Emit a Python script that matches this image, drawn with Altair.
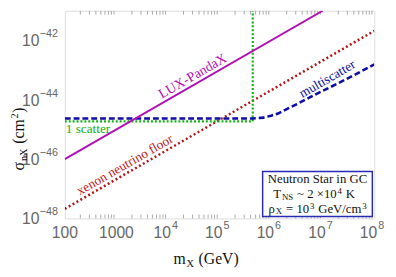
import altair as alt
import pandas as pd

W, H = 316, 212
SERIF = "Liberation Serif"
SANS = "Liberation Sans"

# ---------------- data ----------------
lux_m = [1e2, 1e7]
lux_s = [1e-46, 1e-41]

floor_m = [1e2, 1e8]
floor_s = [2.1e-48, 2.1e-42]

one_m = [1e2, 4.4e5, 4.4e5]
one_s = [1.86e-45, 1.86e-45, 1e-41]

multi_m = [1e2, 4.4e5, 7.1e5, 1.0e6, 1.4e6, 2.0e6, 3.2e6, 5.6e6, 1.0e7, 1.8e7, 3.2e7, 5.6e7, 1.0e8]
multi_s = [2.35e-45, 2.35e-45, 2.5e-45, 2.9e-45, 3.5e-45, 4.8e-45, 7.2e-45, 1.2e-44,
           2.0e-44, 3.3e-44, 5.5e-44, 9.1e-44, 1.55e-43]

x_decades = [1e2, 1e3, 1e4, 1e5, 1e6, 1e7, 1e8]
x_plain_vals = [1e2, 1e3]
x_plain_text = ["100", "1000"]
x_pow_vals = [1e4, 1e5, 1e6, 1e7, 1e8]
x_pow_exp = ["4", "5", "6", "7", "8"]

y_decades = [1e-48, 1e-47, 1e-46, 1e-45, 1e-44, 1e-43, 1e-42, 1e-41]
y_lab_vals = [1e-48, 1e-46, 1e-44, 1e-42]
y_lab_exp = ["\u221248", "\u221246", "\u221244", "\u221242"]

x_minor = [k * d for d in [1e2, 1e3, 1e4, 1e5, 1e6, 1e7] for k in range(2, 10)]

# colours
MAGENTA = "#b010b4"
RED = "#b01414"
GREEN = "#12b012"
BLUE = "#0c0ca6"

xs = alt.Scale(type="log", domain=[1e2, 1e8], nice=False)
ys = alt.Scale(type="log", domain=[1e-48, 1e-41], nice=False)

TIMES = {" ": 250, "(": 333, ")": 333, "~": 541, "\u00d7": 564, "=": 564, "/": 278,
         "C": 667, "G": 722, "K": 722, "N": 722, "S": 556, "T": 611, "V": 722, "X": 722,
         "a": 444, "c": 444, "e": 444, "i": 278, "m": 778, "n": 500, "o": 500, "r": 333,
         "t": 278, "u": 500, "s": 389, "\u03c1": 500, "\u03c3": 549}


def tw(s, size):
    return sum(TIMES.get(c, 500) for c in s) / 1000.0 * size


dummy = pd.DataFrame({"a": [0]})
GAP = 0.8


def rich(pieces, x0, y0, color="#111111", vertical=False):
    layers = []
    pos = x0 if not vertical else y0
    sgn = -1 if vertical else 1
    for text, size, dy in pieces:
        lead = len(text) - len(text.lstrip(" "))
        trail = len(text) - len(text.rstrip(" "))
        core = text.strip(" ")
        pos += sgn * lead * 0.25 * size
        if vertical:
            enc = dict(x=alt.value(x0), y=alt.value(pos))
        else:
            enc = dict(x=alt.value(pos), y=alt.value(y0))
        layers.append(
            alt.Chart(dummy).mark_text(
                text=core, font=SERIF, fontSize=size, align="left", baseline="alphabetic",
                dy=dy, color=color, angle=270 if vertical else 0
            ).encode(**enc)
        )
        pos += sgn * (tw(core, size) + trail * 0.25 * size + GAP)
    return layers


def width_of(pieces):
    return sum(tw(t, s) + GAP for t, s, _ in pieces)


def line_df(m, s):
    return pd.DataFrame({"m": m, "s": s, "i": list(range(len(m)))})


# grid / frame layer
grid = alt.Chart(line_df(lux_m, lux_s)).mark_line(opacity=0).encode(
    x=alt.X("m:Q", scale=xs, axis=alt.Axis(values=x_decades, grid=True, gridColor="#e4e4e4",
                                            gridWidth=1, labels=False, ticks=False,
                                            domain=False, title=None)),
    y=alt.Y("s:Q", scale=ys, axis=alt.Axis(values=y_decades, grid=True, gridColor="#e4e4e4",
                                            gridWidth=1, labels=False, ticks=False,
                                            domain=False, title=None)),
)


def line(m, s, color, width, dash=None):
    kw = dict(color=color, strokeWidth=width, clip=True)
    if dash:
        kw["strokeDash"] = dash
    return alt.Chart(line_df(m, s)).mark_line(**kw).encode(
        x=alt.X("m:Q", scale=xs, axis=None),
        y=alt.Y("s:Q", scale=ys, axis=None),
        order="i:O",
    )


red_line = line(floor_m, floor_s, RED, 2.5, [2, 2.6])
green_line = line(one_m, one_s, GREEN, 2.2, [2, 2])
blue_line = line(multi_m, multi_s, BLUE, 2.6, [6, 3])
mag_line = line(lux_m, lux_s, MAGENTA, 2.0)

# minor ticks (inside, bottom and top)
minor_df = pd.DataFrame({"m": x_minor})
tick_bot = alt.Chart(minor_df).mark_rule(color="#aaaaaa", strokeWidth=1).encode(
    x=alt.X("m:Q", scale=xs, axis=None), y=alt.value(H), y2=alt.value(H - 4))
tick_top = alt.Chart(minor_df).mark_rule(color="#aaaaaa", strokeWidth=1).encode(
    x=alt.X("m:Q", scale=xs, axis=None), y=alt.value(0), y2=alt.value(4))

# tick labels
xl_plain = alt.Chart(pd.DataFrame({"m": x_plain_vals, "t": x_plain_text})).mark_text(
    font=SANS, fontSize=16, color="#666666", align="center", baseline="alphabetic"
).encode(x=alt.X("m:Q", scale=xs, axis=None), y=alt.value(H + 20), text="t:N")
xl_base = alt.Chart(pd.DataFrame({"m": x_pow_vals})).mark_text(
    text="10", font=SANS, fontSize=16, color="#666666", align="right", baseline="alphabetic", dx=3
).encode(x=alt.X("m:Q", scale=xs, axis=None), y=alt.value(H + 20))
xl_exp = alt.Chart(pd.DataFrame({"m": x_pow_vals, "t": x_pow_exp})).mark_text(
    font=SANS, fontSize=11, color="#666666", align="left", baseline="alphabetic", dx=4, dy=-9
).encode(x=alt.X("m:Q", scale=xs, axis=None), y=alt.value(H + 20), text="t:N")

yl_base = alt.Chart(pd.DataFrame({"s": y_lab_vals})).mark_text(
    text="10", font=SANS, fontSize=16, color="#666666", align="right", baseline="alphabetic", dy=6
).encode(y=alt.Y("s:Q", scale=ys, axis=None), x=alt.value(-26))
yl_exp = alt.Chart(pd.DataFrame({"s": y_lab_vals, "t": y_lab_exp})).mark_text(
    font=SANS, fontSize=11, color="#666666", align="left", baseline="alphabetic", dy=-3
).encode(y=alt.Y("s:Q", scale=ys, axis=None), x=alt.value(-25.5), text="t:N")


# curve labels
def label(m, s, text, color, size, angle, dy, align="center", dx=0):
    return alt.Chart(pd.DataFrame({"m": [m], "s": [s], "t": [text]})).mark_text(
        font=SERIF, fontSize=size, color=color, angle=angle, align=align,
        baseline="alphabetic", dy=dy, dx=dx
    ).encode(x=alt.X("m:Q", scale=xs, axis=None), y=alt.Y("s:Q", scale=ys, axis=None), text="t:N")


lab_lux = label(3.6e4, 3.6e-44, "LUX-PandaX", MAGENTA, 14, 330.1, -4)
lab_floor = label(1750, 3.7e-47, "xenon neutrino floor", "#c01818", 13.5, 330.1, -4)
lab_multi = label(1.5e7, 2.75e-44, "multiscatter", BLUE, 13.5, 330, -5)
lab_one = label(1e2, 7.6e-46, "1 scatter", GREEN, 13.5, 0, 0, align="left", dx=1)

# info box
box = alt.Chart(dummy).mark_rect(fill="white", stroke="#2a2ab8", strokeWidth=1.5).encode(
    x=alt.value(202), x2=alt.value(314), y=alt.value(164), y2=alt.value(210))

info1 = alt.Chart(dummy).mark_text(
    text="Neutron Star in GC", font=SERIF, fontSize=13, color="#111111",
    align="center", baseline="alphabetic").encode(x=alt.value(258), y=alt.value(176))

p2 = [("T", 13, 0), ("NS", 9, 2), (" ~ 2 \u00d710", 13, 0), ("4", 9, -4), (" K", 13, 0)]
info2 = rich(p2, 255 - width_of(p2) / 2, 191.5)

p3 = [("\u03c1", 13, 0), ("X", 9, 2), (" = 10", 13, 0), ("3", 9, -4),
      (" GeV/cm", 13, 0), ("3", 9, -4)]
info3 = rich(p3, 258.5 - width_of(p3) / 2, 206)

# axis titles
xtitle = rich([("m", 16, 0), ("X", 10.5, 3), (" (GeV)", 16, 0)], 111, 259)
ytitle = rich([("\u03c3", 16, 0), ("nX", 10.5, 3), (" (cm", 16, 0), ("2", 10.5, -6), (")", 16, 0)],
              -42, 163, vertical=True)

chart = alt.layer(
    grid, tick_bot, tick_top,
    red_line, green_line, blue_line, mag_line,
    xl_plain, xl_base, xl_exp, yl_base, yl_exp,
    lab_lux, lab_floor, lab_multi, lab_one,
    box, info1, *info2, *info3, *xtitle, *ytitle,
).properties(
    width=W, height=H,
    autosize=alt.AutoSizeParams(type="none"),
    padding={"left": 58, "top": 0, "right": 14, "bottom": 57},
).configure_view(stroke="#9a9a9a", strokeWidth=1).configure(background="white")

chart.save("out.html", embed_options={"renderer": "svg", "actions": False})
